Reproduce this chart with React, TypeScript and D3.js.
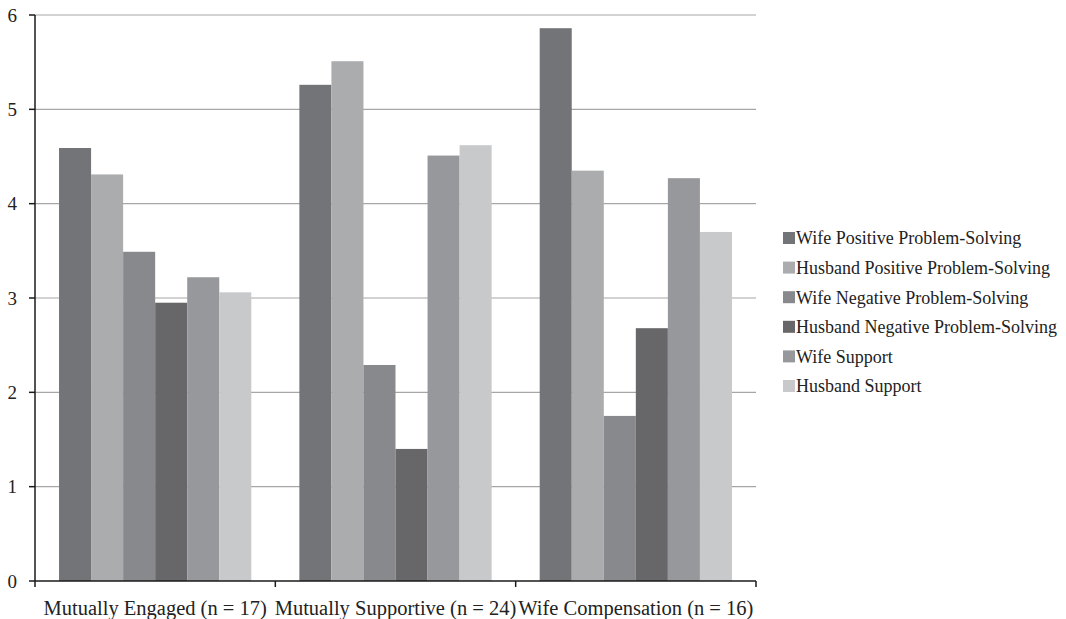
import * as d3 from "d3";

const categories = [
  "Mutually Engaged (n = 17)",
  "Mutually Supportive (n = 24)",
  "Wife Compensation (n = 16)",
];
const seriesNames = [
  "Wife Positive Problem-Solving",
  "Husband Positive Problem-Solving",
  "Wife Negative Problem-Solving",
  "Husband Negative Problem-Solving",
  "Wife Support",
  "Husband Support",
];
const seriesColors = ["#737478", "#abacae", "#88898c", "#67676a", "#97989b", "#c8c9cb"];
// one array per series, one value per category
const wifePositive = [4.59, 5.26, 5.86];
const husbandPositive = [4.31, 5.51, 4.35];
const wifeNegative = [3.49, 2.29, 1.75];
const husbandNegative = [2.95, 1.4, 2.68];
const wifeSupport = [3.22, 4.51, 4.27];
const husbandSupport = [3.06, 4.62, 3.7];
const series = [wifePositive, husbandPositive, wifeNegative, husbandNegative, wifeSupport, husbandSupport];
const yTicks = [0, 1, 2, 3, 4, 5, 6];

const W = 1066;
const H = 619;
const m = { left: 35, right: 310, top: 15, bottom: 38 };

export default function App() {
  const x0 = d3
    .scaleBand<string>()
    .domain(categories)
    .range([m.left, W - m.right])
    .paddingInner(0.2)
    .paddingOuter(0.1);
  const step = x0.step();
  const x1 = d3.scaleBand<number>().domain(d3.range(series.length)).range([0, x0.bandwidth()]);
  const y = d3.scaleLinear().domain([0, 6]).range([H - m.bottom, m.top]);
  const font = "Liberation Serif, Times New Roman, DejaVu Serif, serif";
  const boundaries = d3.range(categories.length + 1).map((i) => m.left + i * step);

  return (
    <div style={{ position: "absolute", left: 0, top: 0 }}>
      <svg width={W} height={H} style={{ display: "block", background: "#fff" }}>
        {/* grid */}
        {yTicks.slice(1).map((t) => (
          <line key={t} x1={m.left} x2={W - m.right} y1={y(t)} y2={y(t)} stroke="#a6a6a6" strokeWidth={1.2} />
        ))}
        {/* bars */}
        {categories.map((c, ci) => (
          <g key={c} transform={`translate(${x0(c)},0)`}>
            {series.map((s, si) => (
              <rect
                key={si}
                x={x1(si)}
                y={y(s[ci])}
                width={x1.bandwidth()}
                height={y(0) - y(s[ci])}
                fill={seriesColors[si]}
              />
            ))}
          </g>
        ))}
        {/* y axis */}
        <line x1={m.left} x2={m.left} y1={y(6)} y2={y(0)} stroke="#1a1a1a" strokeWidth={1.5} />
        {yTicks.map((t) => (
          <g key={t}>
            <line x1={m.left - 6} x2={m.left} y1={y(t)} y2={y(t)} stroke="#1a1a1a" strokeWidth={1.5} />
            <text x={17} y={y(t)} dy="0.35em" textAnchor="end" fontFamily={font} fontSize={19} fill="#222">
              {t}
            </text>
          </g>
        ))}
        {/* x axis */}
        <line x1={m.left} x2={W - m.right} y1={y(0)} y2={y(0)} stroke="#1a1a1a" strokeWidth={1.5} />
        {boundaries.map((b, i) => (
          <line key={i} x1={b} x2={b} y1={y(0)} y2={y(0) + 6} stroke="#1a1a1a" strokeWidth={1.5} />
        ))}
        {categories.map((c) => (
          <text
            key={c}
            x={(x0(c) ?? 0) + x0.bandwidth() / 2}
            y={y(0) + 34}
            textAnchor="middle"
            fontFamily={font}
            fontSize={20.5}
            fill="#222"
          >
            {c}
          </text>
        ))}
        {/* legend */}
        {seriesNames.map((n, i) => (
          <g key={n} transform={`translate(783,${238 + i * 29.6})`}>
            <rect x={0} y={-6} width={12} height={12} fill={seriesColors[i]} />
            <text x={13} y={0} dy="0.35em" fontFamily={font} fontSize={18} fill="#222">
              {n}
            </text>
          </g>
        ))}
      </svg>
    </div>
  );
}
